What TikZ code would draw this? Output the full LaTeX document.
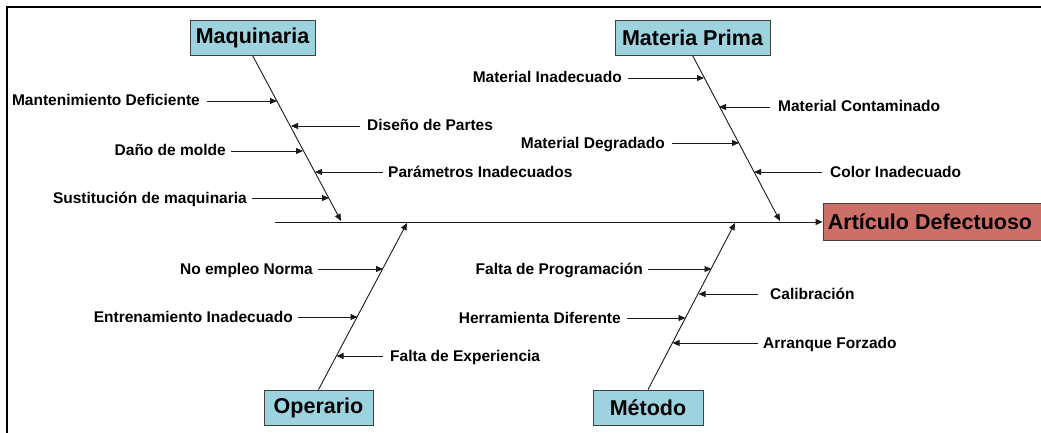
\documentclass[tikz,border=0pt]{standalone}
\usepackage{fontspec}
\setmainfont{Liberation Sans}
\usetikzlibrary{arrows.meta}
\definecolor{boxblue}{HTML}{9DD3DF}
\definecolor{boxred}{HTML}{CC6F69}
\definecolor{linegray}{HTML}{1A1A1A}
\tikzset{
  arr/.style={draw=linegray, line width=0.9pt, -{Triangle[length=7pt,width=6pt]}},
  title/.style={draw=black!75, line width=0.8pt, fill=boxblue, minimum height=35pt, inner sep=0pt,
    font=\fontsize{21.5}{24}\bfseries},
  effect/.style={draw=black!75, line width=0.8pt, fill=boxred, minimum height=37pt, inner sep=0pt,
    font=\fontsize{21.5}{24}\bfseries},
  cause/.style={inner sep=0pt, text height=10pt, text depth=0pt, font=\fontsize{15.5}{18}\bfseries},
  lcause/.style={cause, anchor=east},
  rcause/.style={cause, anchor=west}
}
\begin{document}
\begin{tikzpicture}[x=1pt,y=-1pt]
\useasboundingbox (0,0) rectangle (1041,433);
\begin{scope}
\clip (0,0) rectangle (1041,433);
% frame
\draw[line width=2pt] (7,433) -- (7,7) -- (1045,7);

% boxes
\node[title, minimum width=125pt] (maq) at (252.5,37.5) {Maquinaria};
\node[title, minimum width=155pt] (mp) at (692.5,37.5) {Materia Prima};
\node[title, minimum width=109pt] (op) at (318.5,407.5) {Operario};
\node[title, minimum width=110pt] (met) at (648,407.5) {Método};
\node[effect, minimum width=224pt] (art) at (935,222) {\hspace*{-10pt}Artículo Defectuoso};

% spine
\coordinate (spstart) at (275,222);
\draw[arr] (spstart) -- (art.west);

% bone ends
\coordinate (maqend) at (341,221);
\coordinate (mpend) at (780,221);
\coordinate (opend) at (407,223);
\coordinate (metend) at (735,223);
\draw[arr] (maq.south) -- (maqend);
\draw[arr] (mp.south) -- (mpend);
\draw[arr] (op.north) -- (opend);
\draw[arr] (met.north) -- (metend);

% Maquinaria causes
\coordinate (q1) at (277,101);
\coordinate (q2) at (291,126);
\coordinate (q3) at (303,151);
\coordinate (q4) at (315,172);
\coordinate (q5) at (329,198);
\node[lcause] (c1) at (200,101) {Mantenimiento Deficiente};
\node[rcause] (c2) at (367,126) {Diseño de Partes};
\node[lcause] (c3) at (226,151) {Daño de molde};
\node[rcause] (c4) at (388,172) {Parámetros Inadecuados};
\node[lcause] (c5) at (247,198) {Sustitución de maquinaria};
\draw[arr, shorten <=7pt] (c1.east) -- (q1);
\draw[arr, shorten <=7pt] (c2.west) -- (q2);
\draw[arr, shorten <=5pt] (c3.east) -- (q3);
\draw[arr, shorten <=5pt] (c4.west) -- (q4);
\draw[arr, shorten <=5pt] (c5.east) -- (q5);

% Materia Prima causes
\coordinate (p1) at (704,78);
\coordinate (p2) at (719,107);
\coordinate (p3) at (739,143);
\coordinate (p4) at (754,172);
\node[lcause] (d1) at (622,78) {Material Inadecuado};
\node[rcause] (d2) at (778,107) {Material Contaminado};
\node[lcause] (d3) at (665,143) {Material Degradado};
\node[rcause] (d4) at (830,172) {Color Inadecuado};
\draw[arr, shorten <=6pt] (d1.east) -- (p1);
\draw[arr, shorten <=8pt] (d2.west) -- (p2);
\draw[arr, shorten <=7pt] (d3.east) -- (p3);
\draw[arr, shorten <=8pt] (d4.west) -- (p4);

% Operario causes
\coordinate (o1) at (383,269);
\coordinate (o2) at (357.5,317);
\coordinate (o3) at (336.5,356);
\node[lcause] (e1) at (313,269) {No empleo Norma};
\node[lcause] (e2) at (293,317) {Entrenamiento Inadecuado};
\node[rcause] (e3) at (390,356) {Falta de Experiencia};
\draw[arr, shorten <=5pt] (e1.east) -- (o1);
\draw[arr, shorten <=5pt] (e2.east) -- (o2);
\draw[arr, shorten <=7pt] (e3.west) -- (o3);

% Metodo causes
\coordinate (t1) at (711.5,269);
\coordinate (t2) at (698.5,294);
\coordinate (t3) at (685.5,318);
\coordinate (t4) at (672.5,343);
\node[lcause] (f1) at (643,269) {Falta de Programación};
\node[rcause] (f2) at (770,294) {Calibración};
\node[lcause] (f3) at (621,318) {Herramienta Diferente};
\node[rcause] (f4) at (763,343) {Arranque Forzado};
\draw[arr, shorten <=5pt] (f1.east) -- (t1);
\draw[arr, shorten <=12pt] (f2.west) -- (t2);
\draw[arr, shorten <=6pt] (f3.east) -- (t3);
\draw[arr, shorten <=5pt] (f4.west) -- (t4);
\end{scope}
\end{tikzpicture}
\end{document}
